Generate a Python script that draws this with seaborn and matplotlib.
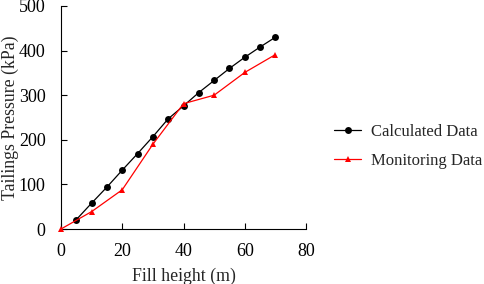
import numpy as np
import pandas as pd
import seaborn as sns
from matplotlib import pyplot as plt

# Values
calc_height = [5, 10, 15, 20, 25, 30, 35, 40, 45, 50, 55, 60, 65, 70]
calc_pressure = [21, 58, 94, 132, 169, 207, 247, 276, 306, 333, 360, 385, 408, 430]

mon_height = [0, 10, 20, 30, 40, 50, 60, 70]
mon_pressure = [0, 39, 88, 190, 281, 300, 351, 391]

df = pd.concat([
    pd.DataFrame({"height": calc_height, "pressure": calc_pressure, "series": "Calculated Data"}),
    pd.DataFrame({"height": mon_height, "pressure": mon_pressure, "series": "Monitoring Data"}),
])

sns.set_style("ticks")
plt.rcParams["font.family"] = ["Liberation Serif", "DejaVu Serif"]
plt.rcParams["font.size"] = 12

fig = plt.figure(figsize=(4.84, 2.84), dpi=100)
ax = fig.add_axes([61 / 484, 1 - 229 / 284, (306 - 61) / 484, (229 - 6) / 284])

cmap = {"Calculated Data": "black", "Monitoring Data": "red"}
markers = {"Calculated Data": "o", "Monitoring Data": "^"}
sns.lineplot(data=df, x="height", y="pressure", hue="series", style="series",
             palette=cmap, markers=markers, dashes=False, markersize=5,
             markeredgewidth=0, linewidth=0.9, clip_on=False, zorder=3, ax=ax)

ax.set_xlim(0, 80)
ax.set_ylim(0, 500)
ax.set_xticks([0, 20, 40, 60, 80])
ax.set_yticks([0, 100, 200, 300, 400, 500])
ax.tick_params(direction="in", length=4, width=0.8, labelsize=13, colors="black")
ax.tick_params(axis="y", pad=11)
ax.tick_params(axis="x", pad=10)
for s in ["left", "bottom"]:
    ax.spines[s].set_color("black")
    ax.spines[s].set_linewidth(0.8)
sns.despine(ax=ax)
ax.set_xlabel("Fill height (m)", fontsize=12.8)
ax.set_ylabel("Tailings Pressure (kPa)", fontsize=12.8)
ax.xaxis.set_label_coords(0.5, -0.172)
ax.yaxis.set_label_coords(-0.17, 0.5)

leg = ax.legend(loc="center left", bbox_to_anchor=(1.055, 0.37), frameon=False,
                fontsize=12, handlelength=1.6, handletextpad=0.6, labelspacing=0.75)

plt.savefig("out.png", dpi=100)
